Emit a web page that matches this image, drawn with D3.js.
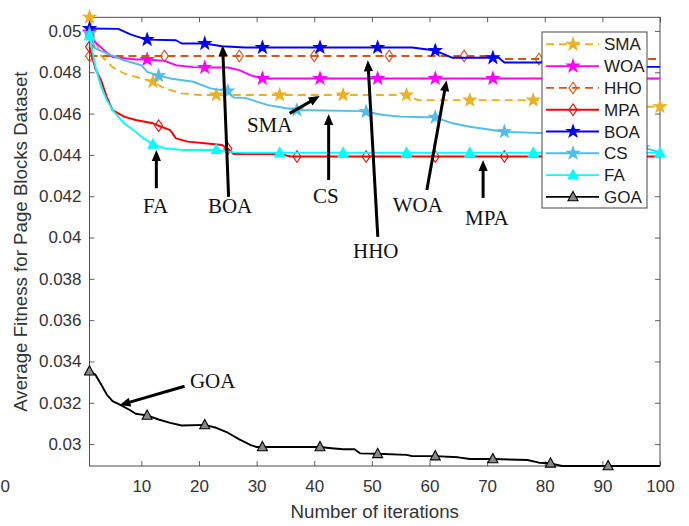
<!DOCTYPE html>
<html><head><meta charset="utf-8">
<script src="https://cdn.jsdelivr.net/npm/d3@7"></script>
<style>body{margin:0;background:#fff}svg{display:block}</style>
</head><body><svg id="c" width="689" height="526"></svg>
<script>
// ---------- data ----------
const seriesNames = ["SMA","WOA","HHO","MPA","BOA","CS","FA","GOA"];

const smaIter = [1,2,3,5,7,9,12,14,17,20,23,34,45,56,58,67,78,89,92,100];
const smaVal  = [0.05066,0.0495,0.0488,0.04825,0.04794,0.04778,0.04754,0.04722,0.04698,0.0469,0.0469,0.0469,0.0469,0.0469,0.04665,0.04665,0.04665,0.04665,0.04633,0.04633];

const woaIter = [1,2,4,5,9,11,14,16,19,21,25,27,29,31,41,51,61,71,81,91,100];
const woaVal  = [0.04995,0.04945,0.04895,0.04874,0.04862,0.04862,0.04855,0.04834,0.04825,0.04823,0.04823,0.0481,0.04785,0.0477,0.0477,0.0477,0.0477,0.0477,0.0477,0.0477,0.0477];

const hhoIter = [1,14,27,40,53,66,71,73,79,92,100];
const hhoVal  = [0.04879,0.04879,0.04879,0.04879,0.04879,0.04879,0.04879,0.04864,0.04864,0.04864,0.04864];

const mpaIter = [1,2,3,4,5,7,9,12,13,15,16,18,21,24,25,26,34,36,37,49,61,73,85,97,100];
const mpaVal  = [0.04923,0.04818,0.04762,0.04681,0.04617,0.04585,0.04569,0.04553,0.04541,0.0452,0.0448,0.04464,0.04456,0.04448,0.0443,0.04404,0.04404,0.04392,0.04392,0.04392,0.04392,0.04392,0.04392,0.04392,0.04392];

const boaIter = [1,6,8,9,11,16,17,21,24,28,31,41,51,57,61,64,71,72,73,81,84,86,91,100];
const boaVal  = [0.05012,0.0501,0.04985,0.04975,0.04958,0.04955,0.04939,0.04939,0.04926,0.0492,0.0492,0.0492,0.0492,0.0492,0.04905,0.0487,0.0487,0.0487,0.04847,0.04847,0.04847,0.04826,0.04826,0.04826];

const csIter = [1,2,4,7,10,11,13,15,19,22,25,26,28,32,37,48,49,52,55,59,61,64,67,73,80,85,92,97,100];
const csVal  = [0.04987,0.04915,0.04891,0.04858,0.04834,0.04802,0.04783,0.0477,0.04754,0.04722,0.04709,0.04678,0.04676,0.04641,0.04617,0.04612,0.04609,0.04593,0.04585,0.04582,0.04582,0.04553,0.04536,0.04512,0.04505,0.0449,0.0446,0.04435,0.04413];

const faIter = [1,2,3,4,5,7,9,10,12,14,17,23,26,28,34,45,56,67,78,89,100];
const faVal  = [0.04975,0.0483,0.0473,0.04665,0.04617,0.04553,0.04512,0.04488,0.04451,0.04432,0.04424,0.04425,0.04412,0.0441,0.0441,0.0441,0.0441,0.0441,0.0441,0.0441,0.0441];

const goaIter = [1,2,3,4,5,6,8,9,11,13,15,17,21,23,25,27,29,30,31,41,43,45,47,48,51,56,57,61,65,67,71,77,79,81,83,91,100];
const goaVal  = [0.03353,0.03337,0.0329,0.0324,0.03208,0.03195,0.03165,0.03147,0.03139,0.03119,0.03103,0.0309,0.03093,0.03079,0.03055,0.03023,0.02995,0.02986,0.02986,0.02986,0.0298,0.02975,0.02975,0.02955,0.02953,0.02948,0.02942,0.02942,0.02936,0.02928,0.02928,0.02923,0.0291,0.02907,0.02894,0.02894,0.02894];

// marker spacing (MATLAB MarkerIndices start:step)
const markerStep = [11,10,13,12,10,12,11,10];

const xTicks = [10,20,30,40,50,60,70,80,90,100];
const yTicks = [0.03,0.032,0.034,0.036,0.038,0.04,0.042,0.044,0.046,0.048,0.05];
const yTickLabels = ["0.03","0.032","0.034","0.036","0.038","0.04","0.042","0.044","0.046","0.048","0.05"];

const xTitle = "Number of iterations";
const yTitle = "Average Fitness for Page Blocks Dataset";

// annotations (data units)
const annoText   = ["FA","BOA","SMA","CS","HHO","WOA","MPA","GOA"];
const annoTextX  = [12.46,25.4,32.27,42.0,50.68,57.97,69.96,22.37];
const annoTextY  = [0.041193,0.041193,0.045121,0.041676,0.039019,0.041242,0.040614,0.032696];
const arrowFromX = [12.6,25.14,35.74,42.5,51.03,59.54,69.3,17.5];
const arrowFromY = [0.042386,0.041966,0.04601,0.042787,0.040034,0.042304,0.041918,0.032802];
const arrowToX   = [12.6,24.1,40.95,42.5,49.3,62.96,69.3,6.2];
const arrowToY   = [0.044237,0.049309,0.046845,0.045976,0.048585,0.047618,0.043754,0.031884];

// ---------- styles ----------
const styles = {
  SMA:{color:"#EDB120",dash:"8,5",marker:"star",fill:"#EDB120"},
  WOA:{color:"#FF00FF",dash:null,marker:"star",fill:"#FF00FF"},
  HHO:{color:"#D95319",dash:"8,5",marker:"diamond",fill:"none"},
  MPA:{color:"#FF0000",dash:null,marker:"diamond",fill:"none"},
  BOA:{color:"#0000FF",dash:null,marker:"star",fill:"#0000FF"},
  CS:{color:"#4DBEEE",dash:null,marker:"star",fill:"#4DBEEE"},
  FA:{color:"#00FFFF",dash:null,marker:"triangle",fill:"#00FFFF"},
  GOA:{color:"#000000",dash:null,marker:"triangle",fill:"#888888"}
};

const iters = [smaIter,woaIter,hhoIter,mpaIter,boaIter,csIter,faIter,goaIter];
const vals  = [smaVal,woaVal,hhoVal,mpaVal,boaVal,csVal,faVal,goaVal];
const series = seriesNames.map((n,k)=>({name:n, pts:iters[k].map((it,j)=>({i:it,v:vals[k][j]})), step:markerStep[k], st:styles[n]}));

// ---------- layout ----------
const svg = d3.select("#c");
const P = {l:89.5, r:660, t:17.3, b:466};
const x = d3.scaleLinear().domain([1,100]).range([P.l,P.r]);
const allV = vals.flat();
const y = d3.scaleLinear().domain(d3.extent(allV)).range([P.b,P.t]);

const axisCol = "#3a3a3a", textCol = "#333";
const fontSans = "'Liberation Sans', Arial, Helvetica, sans-serif";
const fontSerif = "'Liberation Serif', 'Times New Roman', serif";

// axes
const gx = svg.append("g").attr("transform",`translate(0,${P.b})`)
  .call(d3.axisBottom(x).tickValues(xTicks).tickSizeInner(-5).tickSizeOuter(0).tickPadding(14).tickFormat(d3.format("d")));
const gxt = svg.append("g").attr("transform",`translate(0,${P.t})`)
  .call(d3.axisTop(x).tickValues(xTicks).tickSizeInner(-5).tickSizeOuter(0).tickFormat(""));
const gy = svg.append("g").attr("transform",`translate(${P.l},0)`)
  .call(d3.axisLeft(y).tickValues(yTicks).tickSizeInner(-5).tickSizeOuter(0).tickPadding(8).tickFormat((d,i)=>yTickLabels[i]));
const gyr = svg.append("g").attr("transform",`translate(${P.r},0)`)
  .call(d3.axisRight(y).tickValues(yTicks).tickSizeInner(-5).tickSizeOuter(0).tickFormat(""));
[gx,gxt,gy,gyr].forEach(g=>{
  g.select(".domain").remove();
  g.selectAll(".tick line").attr("stroke",axisCol).attr("stroke-width",0.8);
  g.selectAll("text").attr("fill",textCol).style("font-family",fontSans).style("font-size","17px");
});
svg.append("rect").attr("x",P.l).attr("y",P.t).attr("width",P.r-P.l).attr("height",P.b-P.t)
  .attr("fill","none").attr("stroke",axisCol).attr("stroke-width",0.9);

// stray "0" label at far left (kept fully visible)
svg.append("text").attr("x",0.5).attr("y",492).attr("text-anchor","start")
  .attr("fill",textCol).style("font-family",fontSans).style("font-size","17px").text("0");

// titles
svg.append("text").attr("x",(P.l+P.r)/2).attr("y",518).attr("text-anchor","middle")
  .attr("fill",textCol).style("font-family",fontSans).style("font-size","18.7px").text(xTitle);
svg.append("text").attr("transform",`translate(27,${(P.t+P.b)/2}) rotate(-90)`).attr("text-anchor","middle")
  .attr("fill",textCol).style("font-family",fontSans).style("font-size","18.7px").text(yTitle);

// marker shapes
function markerPath(type){
  if(type==="star"){
    const R=6.5, r=R*0.40, pts=[];
    for(let k=0;k<10;k++){const a=-Math.PI/2+k*Math.PI/5, rr=k%2?r:R; pts.push([rr*Math.cos(a),rr*Math.sin(a)]);}
    return "M"+pts.map(p=>p.join(",")).join("L")+"Z";
  }
  if(type==="diamond") return "M0,-5.8L4,0L0,5.8L-4,0Z";
  return "M0,-5.5L5,3.8L-5,3.8Z";
}

// lines
const line = d3.line().x(d=>x(d.i)).y(d=>y(d.v));
series.forEach(s=>{
  svg.append("path").datum(s.pts).attr("d",line).attr("fill","none")
    .attr("stroke",s.st.color).attr("stroke-width",1.9).attr("stroke-linejoin","round")
    .attr("stroke-dasharray",s.st.dash);
  const mk = s.pts.filter(p=>(p.i-1)%s.step===0);
  svg.append("g").selectAll("path").data(mk).join("path")
    .attr("d",markerPath(s.st.marker)).attr("transform",d=>`translate(${x(d.i)},${y(d.v)})`)
    .attr("fill",s.st.fill).attr("stroke",s.st.color).attr("stroke-width",1.1);
});

// legend
const L = {x:542, y:32, w:105, h:176, row0:44.3, dy:21.8};
svg.append("rect").attr("x",L.x).attr("y",L.y).attr("width",L.w).attr("height",L.h)
  .attr("fill","#fff").attr("stroke","#333").attr("stroke-width",0.9);
series.forEach((s,k)=>{
  const yy = L.row0 + k*L.dy;
  svg.append("line").attr("x1",L.x+4).attr("x2",L.x+57).attr("y1",yy).attr("y2",yy)
    .attr("stroke",s.st.color).attr("stroke-width",1.9).attr("stroke-dasharray",s.st.dash);
  svg.append("path").attr("d",markerPath(s.st.marker)).attr("transform",`translate(${L.x+31},${yy})`)
    .attr("fill",s.st.fill).attr("stroke",s.st.color).attr("stroke-width",1.1);
  svg.append("text").attr("x",L.x+62).attr("y",yy).attr("dy","0.36em")
    .attr("fill","#1a1a1a").style("font-family",fontSans).style("font-size","17px").text(s.name);
});

// annotations
annoText.forEach((t,k)=>{
  svg.append("text").attr("x",x(annoTextX[k])).attr("y",y(annoTextY[k])).attr("text-anchor","middle")
    .attr("fill","#111").style("font-family",fontSerif).style("font-size","21px").text(t);
  const x0=x(arrowFromX[k]), y0=y(arrowFromY[k]), x1=x(arrowToX[k]), y1=y(arrowToY[k]);
  const dx=x1-x0, dy=y1-y0, len=Math.hypot(dx,dy), ux=dx/len, uy=dy/len;
  const HL=11, HW=4.6;
  const bx=x1-ux*HL, by=y1-uy*HL;
  svg.append("line").attr("x1",x0).attr("y1",y0).attr("x2",bx+ux*1).attr("y2",by+uy*1)
    .attr("stroke","#000").attr("stroke-width",3);
  svg.append("path").attr("d",`M${x1},${y1}L${bx-uy*HW},${by+ux*HW}L${bx+uy*HW},${by-ux*HW}Z`).attr("fill","#000");
});
</script>
</body></html>
